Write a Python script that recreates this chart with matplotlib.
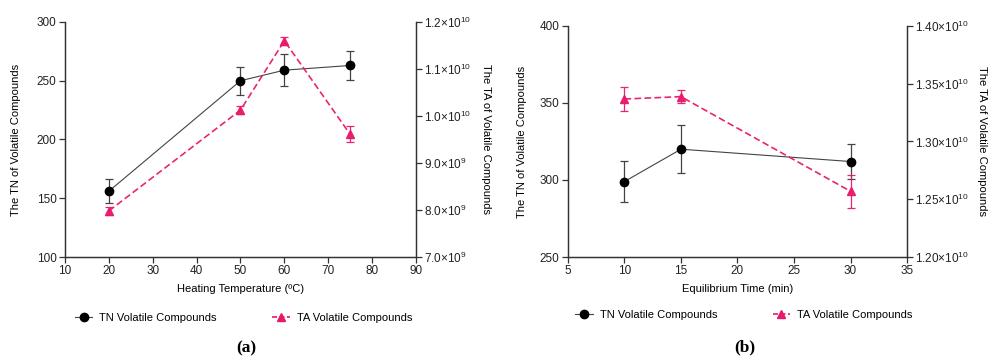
import matplotlib
matplotlib.use("Agg")
import matplotlib.pyplot as plt
from matplotlib.ticker import FuncFormatter
from matplotlib.lines import Line2D

plt.rcParams["font.family"] = ["Liberation Sans", "DejaVu Sans"]
plt.rcParams["mathtext.fontset"] = "custom"
plt.rcParams["mathtext.rm"] = "Liberation Sans"
plt.rcParams["font.size"] = 8.5

# (a) heating temperature
temp = [20, 50, 60, 75]
tn_temp = [156, 250, 259, 263]
tn_temp_err = [10, 12, 13.5, 12]
ta_temp = [7.98e9, 1.0125e10, 1.16e10, 9.61e9]
ta_temp_err = [0.09e9, 0.09e9, 0.09e9, 0.17e9]

# (b) equilibrium time
eq_time = [10, 15, 30]
tn_time = [299, 320, 312]
tn_time_err = [13.3, 15.7, 11.5]
ta_time = [1.3368e10, 1.3388e10, 1.2569e10]
ta_time_err = [0.0101e10, 0.0058e10, 0.0144e10]

pink = "#e8196b"
axcol = "#333333"


def sci_fmt(decimals):
    def f(v, pos):
        exp = len(str(int(round(v)))) - 1
        mant = v / 10 ** exp
        return f"{mant:.{decimals}f}×10$^{{{exp}}}$"
    return FuncFormatter(f)


def style(ax):
    ax.spines["top"].set_visible(False)
    for s in ["left", "bottom", "right"]:
        ax.spines[s].set_color(axcol)
        ax.spines[s].set_linewidth(0.9)
    ax.tick_params(direction="out", length=4, width=0.9, color=axcol, labelcolor="#222222", pad=2)


def panel(ax, x, tn, tn_err, ta, ta_err, xlim, xticks, ylim, yticks, ylim2, yticks2, dec,
          xlabel, lab_l, lab_r):
    ax2 = ax.twinx()
    ax.errorbar(x, tn, yerr=tn_err, color="#444444", lw=0.8, ecolor="#444444", elinewidth=0.9,
                capsize=3, capthick=0.9, marker="o", ms=6, mfc="black", mec="black", zorder=3)
    ax2.errorbar(x, ta, yerr=ta_err, color=pink, lw=1.2, ls=(0, (4, 2)), ecolor=pink,
                 elinewidth=0.9, capsize=3, capthick=0.9, marker="^", ms=5.5, mfc=pink, mec=pink,
                 alpha=0.95, zorder=3)
    ax.set_xlim(*xlim)
    ax.set_xticks(xticks)
    ax.set_ylim(*ylim)
    ax.set_yticks(yticks)
    ax2.set_ylim(*ylim2)
    ax2.set_yticks(yticks2)
    ax2.yaxis.set_major_formatter(sci_fmt(dec))
    style(ax)
    style(ax2)
    ax.set_xlabel(xlabel, fontsize=8, labelpad=5)
    ax.set_ylabel(lab_l, fontsize=8)
    ax2.set_ylabel(lab_r, fontsize=8, rotation=270)
    return ax2


fig = plt.figure(figsize=(9.89, 3.57), dpi=100)

ax_a = fig.add_axes([0.0657, 0.2801, 0.3549, 0.6583])
ax_a2 = panel(ax_a, temp, tn_temp, tn_temp_err, ta_temp, ta_temp_err,
              (10, 90), range(10, 91, 10), (100, 300), range(100, 301, 50),
              (7e9, 1.2e10), [7e9, 8e9, 9e9, 1e10, 1.1e10, 1.2e10], 1,
              "Heating Temperature (ºC)", "The TN of Volatile Compounds",
              "The TA of Volatile Compounds")
ax_a.yaxis.set_label_coords(-0.125, 0.5)
ax_a2.yaxis.set_label_coords(1.215, 0.5)

ax_b = fig.add_axes([0.5743, 0.2801, 0.3428, 0.6471])
ax_b2 = panel(ax_b, eq_time, tn_time, tn_time_err, ta_time, ta_time_err,
              (5, 35), range(5, 36, 5), (250, 400), range(250, 401, 50),
              (1.2e10, 1.4e10), [1.2e10, 1.25e10, 1.3e10, 1.35e10, 1.4e10], 2,
              "Equilibrium Time (min)", "The TN of Volatile Compounds",
              "The TA of Volatile Compounds")
ax_b.yaxis.set_label_coords(-0.12, 0.5)
ax_b2.yaxis.set_label_coords(1.235, 0.5)

handles = [
    Line2D([], [], color="#444444", lw=0.8, marker="o", ms=6, mfc="black", mec="black"),
    Line2D([], [], color=pink, lw=1.2, ls=(0, (3, 1.5)), marker="^", ms=5.5, mfc=pink, mec=pink),
]
labels = ["TN Volatile Compounds", "TA Volatile Compounds"]
for x0, y0 in [(0.246, 0.109), (0.752, 0.117)]:
    fig.legend(handles, labels, loc="center", bbox_to_anchor=(x0, y0), ncol=2, frameon=False,
               fontsize=8, handlelength=1.6, handletextpad=0.6, columnspacing=5.0)

fig.text(0.249, 0.025, "(a)", ha="center", va="center", fontsize=12.5, family="Liberation Serif",
         fontweight="bold")
fig.text(0.753, 0.027, "(b)", ha="center", va="center", fontsize=12.5, family="Liberation Serif",
         fontweight="bold")

fig.savefig("out.png", dpi=100)
